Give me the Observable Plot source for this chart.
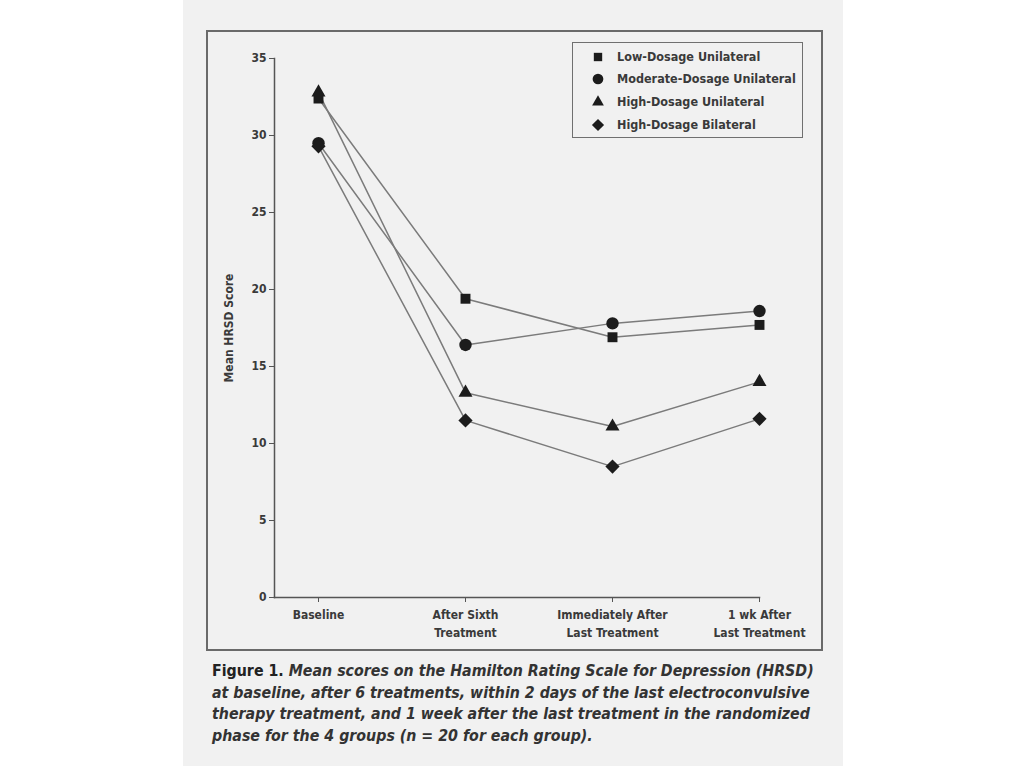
<!DOCTYPE html>
<html>
<head>
<meta charset="utf-8">
<script src="https://cdn.jsdelivr.net/npm/d3@7"></script>
<script src="https://cdn.jsdelivr.net/npm/@observablehq/plot@0.6"></script>
<style>
  html, body { margin: 0; padding: 0; background: #ffffff; }
  #page { position: absolute; left: 183px; top: 0; width: 660px; height: 766px; background: #f1f1f1; }
  #box { position: absolute; left: 206px; top: 30px; width: 613px; height: 617px; border: 2px solid #6a6a6a; }
  #chart { position: absolute; left: 208px; top: 32px; }
  #legend { position: absolute; left: 572px; top: 42px; width: 229px; height: 94px; border: 1.5px solid #707070;
    font-family: "DejaVu Sans Condensed", "Liberation Sans Narrow", sans-serif; font-size: 12.5px; color: #333; }
  .lg { position: absolute; left: 18px; height: 20px; line-height: 20px; }
  .lg svg { position: absolute; left: 0; top: 3px; }
  .lg span { position: absolute; left: 26px; white-space: nowrap; font-weight: bold; color: #3a3a3a; }
  #caption { position: absolute; left: 212px; top: 660px; width: 620px;
    font-family: "DejaVu Sans Condensed", "Liberation Sans Narrow", sans-serif; font-size: 15.8px; line-height: 21.5px; color: #333; font-style: italic; font-weight: bold; }
  #caption b { font-style: normal; color: #222; }
</style>
</head>
<body>
<div id="page"></div>
<div id="box"></div>
<div id="chart"></div>
<div id="legend"></div>
<div id="caption"><b>Figure 1.</b> Mean scores on the Hamilton Rating Scale for Depression (HRSD)<br>at baseline, after 6 treatments, within 2 days of the last electroconvulsive<br>therapy treatment, and 1 week after the last treatment in the randomized<br>phase for the 4 groups (n = 20 for each group).</div>
<script>
const stages = ["Baseline", "After Sixth\nTreatment", "Immediately After\nLast Treatment", "1 wk After\nLast Treatment"];
const seriesNames = ["Low-Dosage Unilateral", "Moderate-Dosage Unilateral", "High-Dosage Unilateral", "High-Dosage Bilateral"];
const lowUnilateral = [32.4, 19.4, 16.9, 17.7];
const moderateUnilateral = [29.5, 16.4, 17.8, 18.6];
const highUnilateral = [32.8, 13.3, 11.1, 14.0];
const highBilateral = [29.3, 11.5, 8.5, 11.6];
const yTicks = [0, 5, 10, 15, 20, 25, 30, 35];
const symbols = ["square", "circle", "triangle", "diamond2"];
const radii = [5.6, 6.2, 5.2, 6.4];

const allValues = [lowUnilateral, moderateUnilateral, highUnilateral, highBilateral];
const data = [];
seriesNames.forEach((s, i) => stages.forEach((st, j) => data.push({series: s, stage: st, value: allValues[i][j]})));

const W = 612, H = 616;
const mL = 66, mR = 61, mT = 26, mB = 51;

const marks = [
  Plot.frame({anchor: "left", stroke: "#555", strokeWidth: 1.5}),
  Plot.frame({anchor: "bottom", stroke: "#555", strokeWidth: 1.5}),
  Plot.axisY({ticks: yTicks, tickSize: 5, tickPadding: 3, label: "Mean HRSD Score", labelAnchor: "center", labelArrow: "none", labelOffset: 50, stroke: "#555", fill: "#3a3a3a"}),
  Plot.axisX({tickSize: 5, tickPadding: 3, label: null, lineHeight: 1.55, stroke: "#555", fill: "#3a3a3a"}),
];
seriesNames.forEach((s, i) => {
  const d = data.filter(r => r.series === s);
  marks.push(Plot.line(d, {x: "stage", y: "value", stroke: "#7b7b7b", strokeWidth: 1.5}));
});
seriesNames.forEach((s, i) => {
  const d = data.filter(r => r.series === s);
  marks.push(Plot.dot(d, {x: "stage", y: "value", symbol: () => symbols[i], r: radii[i], fill: "#1c1c1c", stroke: "none"}));
});

const chart = Plot.plot({
  width: W, height: H,
  marginLeft: mL, marginRight: mR, marginTop: mT, marginBottom: mB,
  style: {background: "transparent", fontFamily: "'DejaVu Sans Condensed', 'Liberation Sans Narrow', sans-serif", fontSize: "12px", color: "#333", fontWeight: "bold"},
  x: {type: "point", domain: stages, range: [110, W - mR], padding: 0},
  y: {domain: [0, 35]},
  symbol: {type: "identity"},
  marks
});
document.getElementById("chart").appendChild(chart);

// legend
const legend = document.getElementById("legend");
const tops = [4, 26, 49, 72];
seriesNames.forEach((s, i) => {
  const row = document.createElement("div");
  row.className = "lg";
  row.style.top = tops[i] + "px";
  const path = d3.symbol(i === 0 ? d3.symbolSquare : i === 1 ? d3.symbolCircle : i === 2 ? d3.symbolTriangle : d3.symbolDiamond2, [70, 90, 60, 95][i])();
  row.innerHTML = `<svg width="14" height="14" viewBox="-7 -7 14 14"><path d="${path}" fill="#1c1c1c"/></svg><span>${s}</span>`;
  legend.appendChild(row);
});
</script>
</body>
</html>
